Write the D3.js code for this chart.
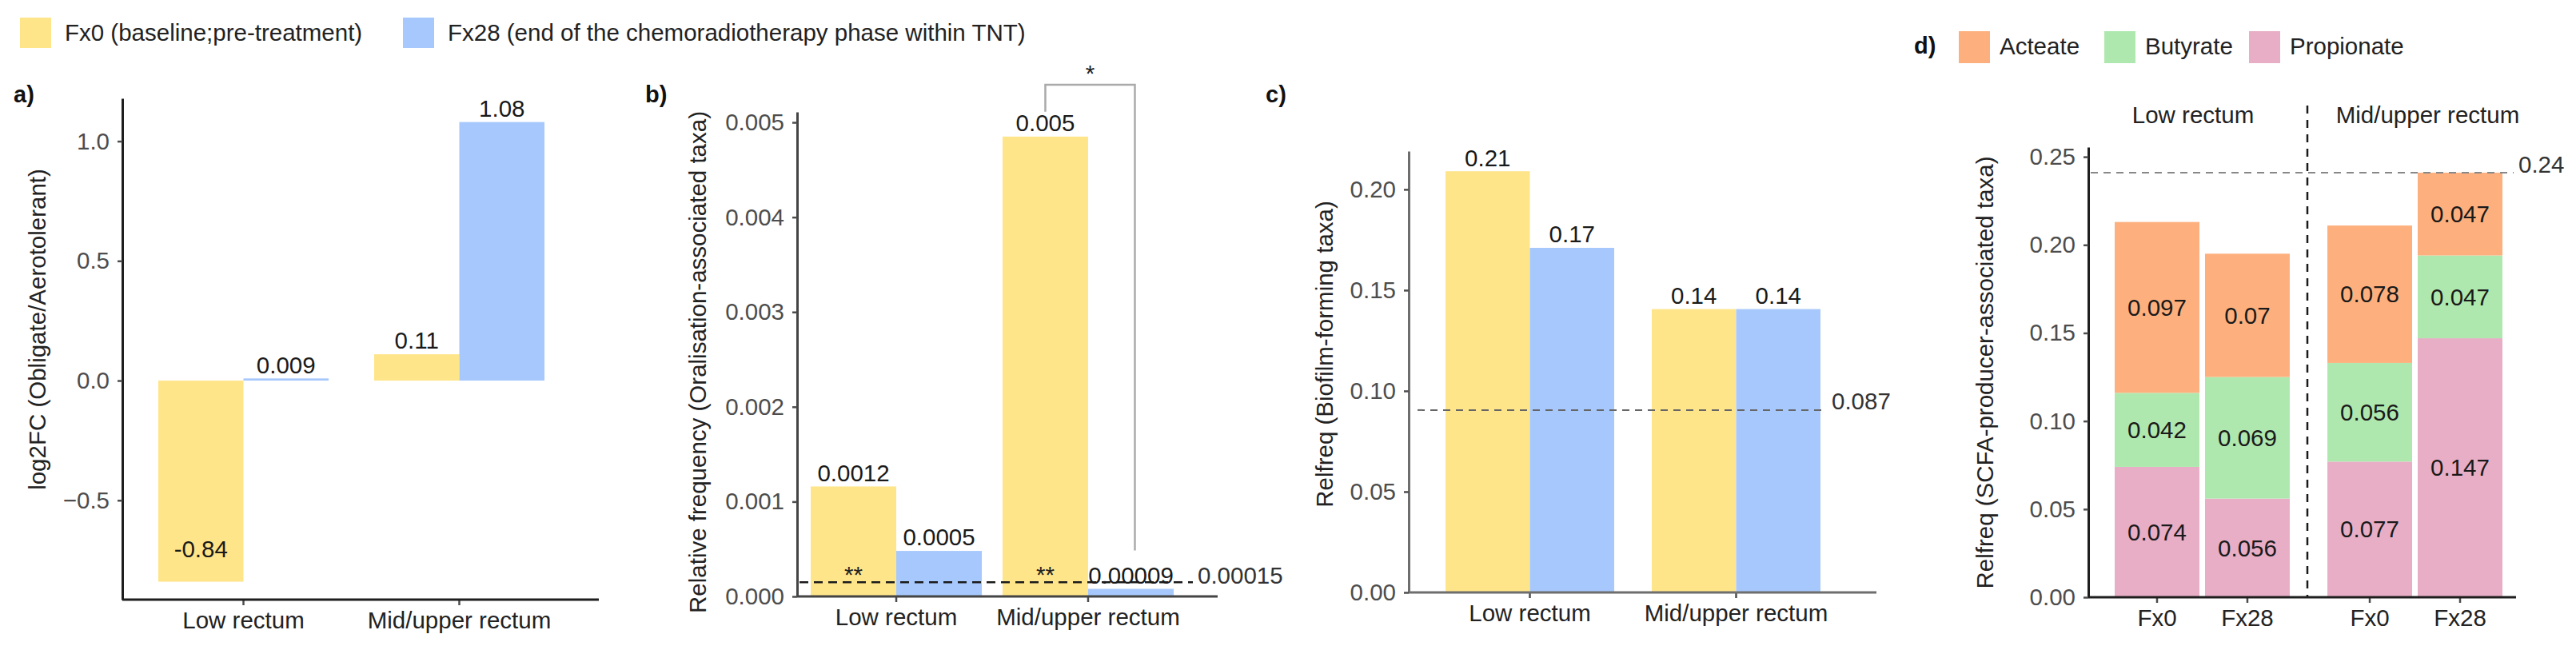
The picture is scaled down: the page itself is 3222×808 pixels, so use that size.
<!DOCTYPE html>
<html>
<head>
<meta charset="utf-8">
<script src="https://cdn.jsdelivr.net/npm/d3@7/dist/d3.min.js"></script>
<style>
    body { margin: 0; background: #fff; }
    svg { font-family: "Liberation Sans", Arial, sans-serif; }
</style>
</head>
<body>
<svg id="fig" width="3222" height="808"></svg>
<script>
// ---- data ----
let groups = ['Low rectum', 'Mid/upper rectum'];
let timepoints = ['Fx0', 'Fx28'];
let legendLabels = ['Fx0 (baseline;pre-treatment)', 'Fx28 (end of the chemoradiotherapy phase within TNT)'];

// a) log2FC obligate / aerotolerant, [group][timepoint]
let log2fc = [[-0.84, 0.009], [0.11, 1.08]];
let log2fcLabels = [['-0.84', '0.009'], ['0.11', '1.08']];
let log2fcTicks = [-0.5, 0.0, 0.5, 1.0];

// b) oralisation-associated taxa
let oralFreq = [[0.00116, 0.00048], [0.00485, 0.00008]];
let oralLabels = [['0.0012', '0.0005'], ['0.005', '0.00009']];
let oralTicks = [0, 0.001, 0.002, 0.003, 0.004, 0.005];
let oralThreshold = 0.00015;
let oralStars = ['**', '**'];

// c) biofilm-forming taxa
let biofilm = [[0.209, 0.171], [0.1406, 0.1406]];
let biofilmLabels = [['0.21', '0.17'], ['0.14', '0.14']];
let biofilmTicks = [0, 0.05, 0.10, 0.15, 0.20];
let biofilmLine = 0.0905;
let biofilmLineLabel = '0.087';

// d) SCFA producers, stacked (order: Low Fx0, Low Fx28, Mid Fx0, Mid Fx28)
let scfaGroup = ['Low rectum', 'Low rectum', 'Mid/upper rectum', 'Mid/upper rectum'];
let scfaTime = ['Fx0', 'Fx28', 'Fx0', 'Fx28'];
let propionate = [0.074, 0.056, 0.077, 0.147];
let butyrate = [0.042, 0.069, 0.056, 0.047];
let acetate = [0.097, 0.07, 0.078, 0.047];
let scfaNames = ['Acteate', 'Butyrate', 'Propionate'];
let scfaTicks = [0, 0.05, 0.10, 0.15, 0.20, 0.25];

// ---- style ----
let timeColor = d3.scaleOrdinal().domain(timepoints).range(['#FFE58A', '#A6C8FD']);
let scfaColor = d3.scaleOrdinal().domain(scfaNames).range(['#FDB07E', '#AEE8AE', '#E8AEC6']);
let FS = 29.5;
let tickColor = '#4d4d4d';

let svg = d3.select('#fig');

// legend on top
let legendX = [25, 504];
legendLabels.forEach((t, i) => {
    svg.append('rect').attr('x', legendX[i]).attr('y', 22).attr('width', 39).attr('height', 38)
        .attr('fill', timeColor(timepoints[i]));
    svg.append('text').attr('x', legendX[i] + 56).attr('y', 41).attr('dy', '0.35em')
        .attr('font-size', FS).attr('fill', '#222').text(t);
});

function panelLabel(txt, x, y) {
    svg.append('text').attr('x', x).attr('y', y).attr('dy', '0.35em')
        .attr('font-size', 29).attr('font-weight', 'bold').attr('fill', '#111').text(txt);
}

function yTitle(txt, cx, cy) {
    svg.append('text').attr('transform', `translate(${cx},${cy}) rotate(-90)`)
        .attr('text-anchor', 'middle').attr('dy', '0.35em')
        .attr('font-size', FS).attr('fill', '#222').text(txt);
}

function styleAxis(g, color) {
    g.selectAll('text').attr('font-size', FS).attr('fill', tickColor)
        .attr('font-family', '"Liberation Sans", Arial, sans-serif');
    g.selectAll('.tick line').attr('stroke', tickColor).attr('stroke-width', 2.5);
    g.select('.domain').attr('stroke', color).attr('stroke-width', 3);
}

// grouped bar panel (a, b, c)
function barPanel(cfg) {
    let y = d3.scaleLinear().domain(cfg.domain).range([cfg.yBottom, cfg.yTop]);
    let x = d3.scaleBand().domain(groups).range(cfg.barRange).paddingInner(cfg.padInner);
    let xs = d3.scaleBand().domain(timepoints).range([0, x.bandwidth()]);

    let g = svg.append('g');
    let rows = [];
    groups.forEach((grp, i) => timepoints.forEach((tp, j) => {
        rows.push({grp: grp, tp: tp, v: cfg.values[i][j], lab: cfg.labels[i][j]});
    }));

    g.selectAll('rect.bar').data(rows).enter().append('rect')
        .attr('class', 'bar')
        .attr('x', d => x(d.grp) + xs(d.tp))
        .attr('width', xs.bandwidth())
        .attr('y', d => y(Math.max(0, d.v)))
        .attr('height', d => Math.abs(y(d.v) - y(0)))
        .attr('fill', d => timeColor(d.tp));

    if (cfg.extra) cfg.extra(g, x, xs, y);

    g.selectAll('text.val').data(rows).enter().append('text')
        .attr('class', 'val')
        .attr('x', d => x(d.grp) + xs(d.tp) + xs.bandwidth() / 2)
        .attr('y', d => d.v >= 0 ? y(d.v) - 17 : y(d.v) - 41)
        .attr('dy', '0.35em')
        .attr('text-anchor', 'middle')
        .attr('font-size', FS).attr('fill', '#1a1a1a')
        .text(d => d.lab);

    // y axis
    let ya = g.append('g').attr('transform', `translate(${cfg.axisX0},0)`)
        .call(d3.axisLeft(y).tickValues(cfg.ticks).tickFormat(cfg.fmt).tickSize(6).tickSizeOuter(0).tickPadding(10));
    styleAxis(ya, cfg.axisColor);

    // x axis
    let xa = g.append('g').attr('transform', `translate(0,${cfg.yBottom})`)
        .call(d3.axisBottom(x).tickSize(7).tickSizeOuter(0).tickPadding(8));
    xa.select('.domain').remove();
    styleAxis(xa, cfg.axisColor);
    xa.selectAll('text').attr('fill', '#222');
    g.append('line').attr('x1', cfg.axisX0).attr('x2', cfg.axisX1)
        .attr('y1', cfg.yBottom).attr('y2', cfg.yBottom)
        .attr('stroke', cfg.axisColor).attr('stroke-width', 3);
    return y;
}

// ---- a) ----
panelLabel('a)', 17, 118);
yTitle('log2FC (Obligate/Aerotolerant)', 47, 412);
barPanel({
    domain: [-0.915, 1.179], yBottom: 750, yTop: 123,
    barRange: [198, 681], padInner: 0.211,
    axisX0: 153, axisX1: 749, axisColor: '#1e1e1e',
    values: log2fc, labels: log2fcLabels, ticks: log2fcTicks,
    fmt: d3.format('.1f')
});

// ---- b) ----
panelLabel('b)', 807, 118);
yTitle('Relative frequency (Oralisation-associated taxa)', 873, 453);
barPanel({
    domain: [0, 0.00511], yBottom: 746, yTop: 140,
    barRange: [1014, 1468], padInner: 0.108,
    axisX0: 997, axisX1: 1523, axisColor: '#444',
    values: oralFreq, labels: oralLabels, ticks: oralTicks,
    fmt: d3.format('.3f'),
    extra: function (g, x, xs, y) {
        let ty = y(oralThreshold);
        g.append('line').attr('x1', 1000).attr('x2', 1492).attr('y1', ty).attr('y2', ty)
            .attr('stroke', '#1a1a1a').attr('stroke-width', 2.5).attr('stroke-dasharray', '11,7');
        g.append('text').attr('x', 1498).attr('y', ty - 9).attr('dy', '0.35em')
            .attr('font-size', FS).attr('fill', '#333').text(d3.format('.5f')(oralThreshold));
        groups.forEach((grp, i) => {
            g.append('text').attr('x', x(grp) + xs('Fx0') + xs.bandwidth() / 2).attr('y', ty - 10)
                .attr('dy', '0.35em').attr('text-anchor', 'middle')
                .attr('font-size', FS).attr('fill', '#222').text(oralStars[i]);
        });
        // significance bracket, Mid/upper Fx0 vs Fx28
        let mid = groups[1];
        let bx0 = x(mid) + xs('Fx0') + xs.bandwidth() / 2;
        let bx1 = x(mid) + xs('Fx28') + xs.bandwidth() / 2 + 5;
        let top = 106;
        g.append('path')
            .attr('d', `M${bx0},${y(oralFreq[1][0]) - 31}V${top}H${bx1}V${y(oralFreq[1][1]) - 48}`)
            .attr('fill', 'none').attr('stroke', '#aaa').attr('stroke-width', 2.5);
        g.append('text').attr('x', (bx0 + bx1) / 2).attr('y', top - 4).attr('text-anchor', 'middle')
            .attr('font-size', FS).attr('fill', '#222').text('*');
    }
});

// ---- c) ----
panelLabel('c)', 1583, 118);
yTitle('Relfreq (Biofilm-forming taxa)', 1657, 443);
barPanel({
    domain: [0, 0.219], yBottom: 741, yTop: 189,
    barRange: [1808, 2277], padInner: 0.182,
    axisX0: 1762, axisX1: 2347, axisColor: '#6e6e6e',
    values: biofilm, labels: biofilmLabels, ticks: biofilmTicks,
    fmt: d3.format('.2f'),
    extra: function (g, x, xs, y) {
        let ty = y(biofilmLine);
        g.append('line').attr('x1', 1773).attr('x2', 2285).attr('y1', ty).attr('y2', ty)
            .attr('stroke', '#666').attr('stroke-width', 2).attr('stroke-dasharray', '9,7');
        g.append('text').attr('x', 2291).attr('y', ty - 11).attr('dy', '0.35em')
            .attr('font-size', FS).attr('fill', '#333').text(biofilmLineLabel);
    }
});

// ---- d) stacked ----
(function () {
    let yBottom = 747, yTop = 184, axisX0 = 2612, axisX1 = 3147;
    let y = d3.scaleLinear().domain([0, 0.2555]).range([yBottom, yTop]);
    let fx = d3.scaleBand().domain(groups).range([2645, 3130]).paddingInner(0.177);
    let xs = d3.scaleBand().domain(timepoints).range([0, fx.bandwidth()]).paddingInner(0.062);

    let rows = scfaTime.map((tp, i) => ({
        grp: scfaGroup[i], tp: tp,
        Propionate: propionate[i], Butyrate: butyrate[i], Acteate: acetate[i]
    }));
    let stack = d3.stack().keys(['Propionate', 'Butyrate', 'Acteate'])(rows);
    let g = svg.append('g');

    // legend
    panelLabel('d)', 2394, 57);
    let legX = [2450, 2632, 2813];
    scfaNames.forEach((n, i) => {
        g.append('rect').attr('x', legX[i]).attr('y', 39).attr('width', 39).attr('height', 40)
            .attr('fill', scfaColor(n));
        g.append('text').attr('x', legX[i] + 51).attr('y', 58).attr('dy', '0.35em')
            .attr('font-size', FS).attr('fill', '#222').text(n);
    });

    yTitle('Relfreq (SCFA-producer-associated taxa)', 2483, 466);

    let layers = g.selectAll('g.layer').data(stack).enter().append('g')
        .attr('class', 'layer').attr('fill', d => scfaColor(d.key));
    layers.selectAll('rect').data(d => d).enter().append('rect')
        .attr('x', d => fx(d.data.grp) + xs(d.data.tp))
        .attr('width', xs.bandwidth())
        .attr('y', d => y(d[1]))
        .attr('height', d => y(d[0]) - y(d[1]));
    layers.selectAll('text').data(d => d.map(s => ({s: s, key: d.key}))).enter().append('text')
        .attr('x', d => fx(d.s.data.grp) + xs(d.s.data.tp) + xs.bandwidth() / 2)
        .attr('y', d => y((d.s[0] + d.s[1]) / 2))
        .attr('dy', '0.35em').attr('text-anchor', 'middle')
        .attr('font-size', FS).attr('fill', '#1a1a1a')
        .text(d => d.s.data[d.key]);

    // max line
    let totals = rows.map(r => r.Propionate + r.Butyrate + r.Acteate);
    let maxTot = d3.max(totals);
    g.append('line').attr('x1', axisX0 + 3).attr('x2', 3144).attr('y1', y(maxTot)).attr('y2', y(maxTot))
        .attr('stroke', '#888').attr('stroke-width', 2).attr('stroke-dasharray', '9,7');
    g.append('text').attr('x', 3150).attr('y', y(maxTot) - 10).attr('dy', '0.35em')
        .attr('font-size', FS).attr('fill', '#333').text(d3.format('.2f')(maxTot));

    // facet divider + titles
    let divX = 2886;
    g.append('line').attr('x1', divX).attr('x2', divX).attr('y1', 132).attr('y2', yBottom)
        .attr('stroke', '#1a1a1a').attr('stroke-width', 2.5).attr('stroke-dasharray', '10,8');
    let facetCx = [ (axisX0 + divX) / 2 - 6, (divX + axisX1) / 2 + 20 ];
    groups.forEach((grp, i) => {
        g.append('text').attr('x', facetCx[i]).attr('y', 144).attr('dy', '0.35em')
            .attr('text-anchor', 'middle').attr('font-size', FS).attr('fill', '#222').text(grp);
    });

    // axes
    let ya = g.append('g').attr('transform', `translate(${axisX0},0)`)
        .call(d3.axisLeft(y).tickValues(scfaTicks).tickFormat(d3.format('.2f')).tickSize(6).tickSizeOuter(0).tickPadding(10));
    styleAxis(ya, '#1e1e1e');
    groups.forEach(grp => {
        let sub = d3.scaleBand().domain(timepoints).range([fx(grp), fx(grp) + fx.bandwidth()]).paddingInner(0.062);
        let xa = g.append('g').attr('transform', `translate(0,${yBottom})`)
            .call(d3.axisBottom(sub).tickSize(7).tickSizeOuter(0).tickPadding(8));
        xa.select('.domain').remove();
        styleAxis(xa, '#1e1e1e');
        xa.selectAll('text').attr('fill', '#222');
    });
    g.append('line').attr('x1', axisX0).attr('x2', axisX1).attr('y1', yBottom).attr('y2', yBottom)
        .attr('stroke', '#1e1e1e').attr('stroke-width', 3);
})();
</script>
</body>
</html>
